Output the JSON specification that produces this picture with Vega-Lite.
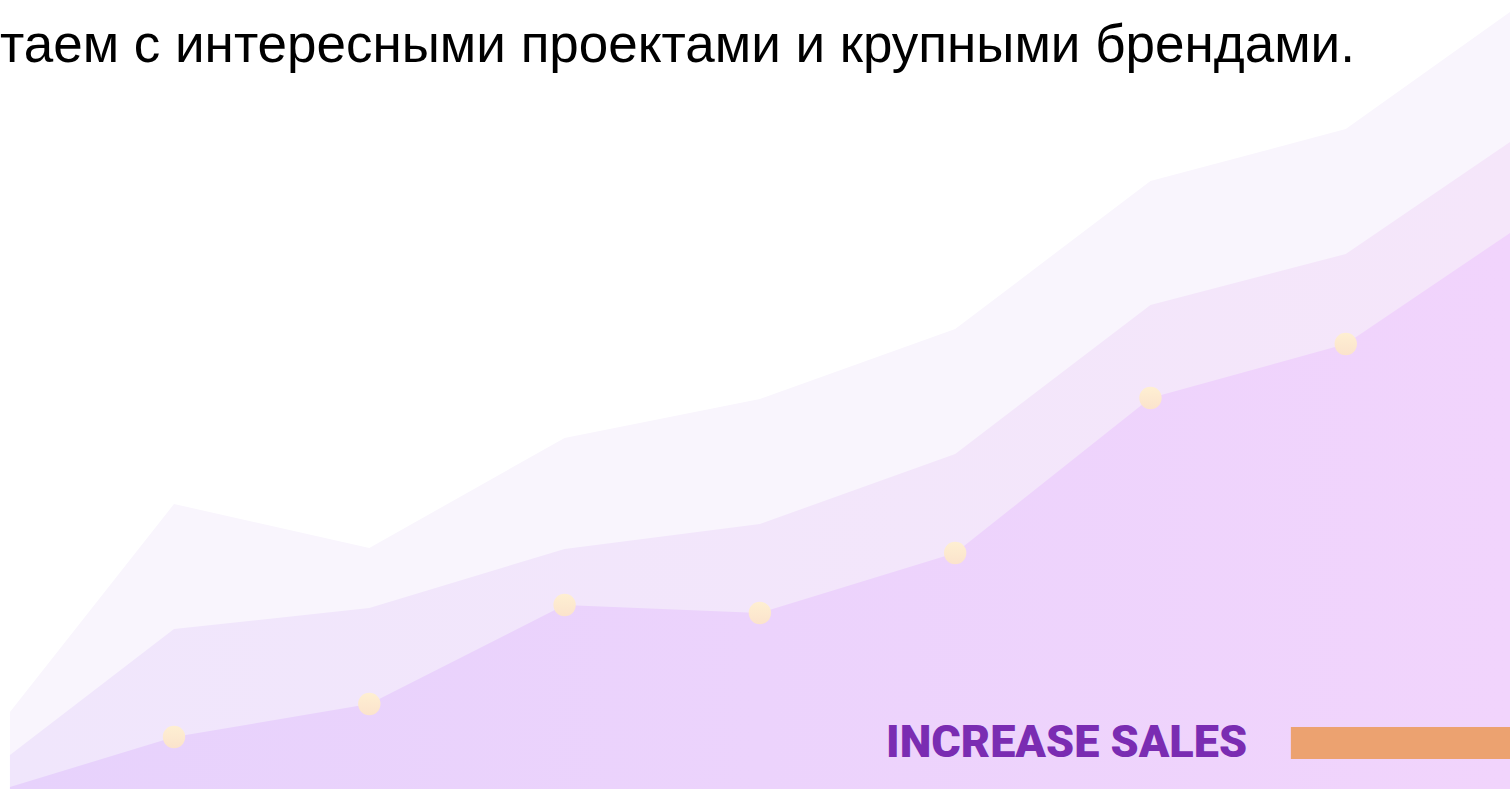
{
  "$schema": "https://vega.github.io/schema/vega-lite/v6.json",
  "width": 1510,
  "height": 789,
  "autosize": {"type": "fit", "contains": "padding"},
  "padding": 0,
  "background": "#ffffff",
  "config": {"view": {"stroke": null}},
  "datasets": {
    "back": [
      {"period": 0.16, "value": 77}, {"period": 1, "value": 285}, {"period": 2, "value": 241},
      {"period": 3, "value": 351}, {"period": 4, "value": 390}, {"period": 5, "value": 460},
      {"period": 6, "value": 608}, {"period": 7, "value": 660}, {"period": 7.841, "value": 777}
    ],
    "middle": [
      {"period": 0.16, "value": 34}, {"period": 1, "value": 160}, {"period": 2, "value": 181},
      {"period": 3, "value": 240}, {"period": 4, "value": 265}, {"period": 5, "value": 335},
      {"period": 6, "value": 484}, {"period": 7, "value": 535}, {"period": 7.841, "value": 647}
    ],
    "front": [
      {"period": 0.16, "value": 2}, {"period": 1, "value": 52}, {"period": 2, "value": 85},
      {"period": 3, "value": 184}, {"period": 4, "value": 176}, {"period": 5, "value": 236},
      {"period": 6, "value": 391}, {"period": 7, "value": 445}, {"period": 7.841, "value": 556}
    ],
    "points": [
      {"period": 1, "value": 52}, {"period": 2, "value": 85}, {"period": 3, "value": 184},
      {"period": 4, "value": 176}, {"period": 5, "value": 236}, {"period": 6, "value": 391},
      {"period": 7, "value": 445}
    ],
    "subtitle": [{"period": 0.109, "value": 727, "label": "таем с интересными проектами и крупными брендами."}],
    "tag": [{"period": 4.646, "value": 32, "label": "INCREASE SALES"}],
    "bar": [{"start": 6.719, "end": 7.841, "low": 30, "high": 62}]
  },
  "layer": [
    {
      "data": {"name": "back"},
      "mark": {"type": "area", "color": "#F9F5FD", "interpolate": "linear"},
      "encoding": {
        "x": {"field": "period", "type": "quantitative", "scale": {"domain": [0.109, 7.841], "nice": false, "zero": false}, "axis": null},
        "y": {"field": "value", "type": "quantitative", "scale": {"domain": [0, 789], "nice": false}, "axis": null}
      }
    },
    {
      "data": {"name": "middle"},
      "mark": {"type": "area", "interpolate": "linear", "color": {"gradient": "linear", "x1": 0, "x2": 1, "y1": 0, "y2": 0, "stops": [{"offset": 0, "color": "#F0E6FC"}, {"offset": 1, "color": "#F5E6FA"}]}},
      "encoding": {
        "x": {"field": "period", "type": "quantitative"},
        "y": {"field": "value", "type": "quantitative"}
      }
    },
    {
      "data": {"name": "front"},
      "mark": {"type": "area", "interpolate": "linear", "color": {"gradient": "linear", "x1": 0, "x2": 1, "y1": 0, "y2": 0, "stops": [{"offset": 0, "color": "#E7D2FC"}, {"offset": 1, "color": "#F1D4FC"}]}},
      "encoding": {
        "x": {"field": "period", "type": "quantitative"},
        "y": {"field": "value", "type": "quantitative"}
      }
    },
    {
      "data": {"name": "points"},
      "mark": {"type": "circle", "size": 500, "opacity": 1, "color": {"gradient": "linear", "x1": 0, "x2": 0, "y1": 0, "y2": 1, "stops": [{"offset": 0, "color": "#FEEFD2"}, {"offset": 1, "color": "#FBE3CC"}]}},
      "encoding": {
        "x": {"field": "period", "type": "quantitative"},
        "y": {"field": "value", "type": "quantitative"}
      }
    },
    {
      "data": {"name": "bar"},
      "mark": {"type": "rect", "color": "#ECA270"},
      "encoding": {
        "x": {"field": "start", "type": "quantitative"},
        "x2": {"field": "end"},
        "y": {"field": "low", "type": "quantitative"},
        "y2": {"field": "high"}
      }
    },
    {
      "data": {"name": "tag"},
      "mark": {"type": "text", "align": "left", "baseline": "alphabetic", "font": "Roboto", "fontWeight": 900, "fontSize": 45, "color": "#7A2CB2"},
      "encoding": {
        "x": {"field": "period", "type": "quantitative"},
        "y": {"field": "value", "type": "quantitative"},
        "text": {"field": "label"}
      }
    },
    {
      "data": {"name": "subtitle"},
      "mark": {"type": "text", "align": "left", "baseline": "alphabetic", "font": "Liberation Sans", "fontSize": 53, "color": "#000000"},
      "encoding": {
        "x": {"field": "period", "type": "quantitative"},
        "y": {"field": "value", "type": "quantitative"},
        "text": {"field": "label"}
      }
    }
  ]
}
